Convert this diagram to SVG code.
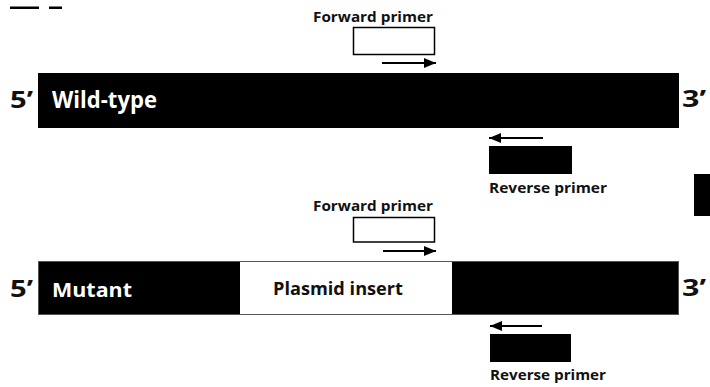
<svg xmlns="http://www.w3.org/2000/svg" width="710" height="387" viewBox="0 0 710 387">
<defs>
<style>
.t{font-family:"Open Sans","Noto Sans","Liberation Sans",sans-serif;font-weight:bold;fill:#111}
.w{fill:#fff}
.lbl{font-size:14px}
.end{font-size:23px}
.bar{fill:#000}
.fp{fill:#fff;stroke:#000;stroke-width:1.5}
.rp{fill:#000}
.arr{stroke:#000;stroke-width:1.8;fill:none}
</style>
<marker id="ah" viewBox="0 0 12 10" refX="12" refY="5" markerWidth="12" markerHeight="10" markerUnits="userSpaceOnUse" orient="auto">
<path d="M0,0 L12,5 L0,10 Z" fill="#000"/>
</marker>
</defs>
<rect width="710" height="387" fill="#fff"/>
<g id="fragment">
<rect x="10" y="6.5" width="29" height="2.5" fill="#000"/>
<rect x="49" y="6.5" width="13" height="2.5" fill="#000"/>
</g>
<g id="wildtype">
<rect class="bar" x="38" y="73" width="641" height="55"/>
<text class="t end" x="10" y="108" textLength="23" lengthAdjust="spacingAndGlyphs">5’</text>
<text class="t w end" x="52" y="108" textLength="105" lengthAdjust="spacingAndGlyphs">Wild-type</text>
<text class="t end" x="682" y="107" textLength="24" lengthAdjust="spacingAndGlyphs">3’</text>
</g>
<g id="wt-forward">
<text class="t lbl" x="313" y="22" textLength="120" lengthAdjust="spacingAndGlyphs">Forward primer</text>
<rect class="fp" x="353.5" y="27.5" width="81" height="27"/>
</g>
<g id="wt-reverse">
<rect class="rp" x="489" y="146" width="83" height="28"/>
<text class="t lbl" x="489" y="193" textLength="118" lengthAdjust="spacingAndGlyphs">Reverse primer</text>
</g>
<g id="side-box">
<rect x="694" y="174" width="16" height="42" fill="#000"/>
</g>
<g id="mutant">
<rect x="38.5" y="261.5" width="640" height="53" fill="#000" stroke="#555" stroke-width="1"/>
<rect x="240" y="262" width="212" height="52" fill="#fff"/>
<text class="t end" x="10" y="297" textLength="23" lengthAdjust="spacingAndGlyphs">5’</text>
<text class="t w" x="52" y="297" font-size="19" textLength="80" lengthAdjust="spacingAndGlyphs">Mutant</text>
<text class="t end" x="682" y="296" textLength="24" lengthAdjust="spacingAndGlyphs">3’</text>
</g>
<g id="plasmid-insert">
<text class="t" x="273" y="295" font-size="17" textLength="130" lengthAdjust="spacingAndGlyphs">Plasmid insert</text>
</g>
<g id="mut-forward">
<text class="t lbl" x="313" y="211" textLength="120" lengthAdjust="spacingAndGlyphs">Forward primer</text>
<rect class="fp" x="353.5" y="217.5" width="81" height="24.5"/>
</g>
<g id="mut-reverse">
<rect class="rp" x="490" y="334" width="81" height="28"/>
<text class="t lbl" x="490" y="380" textLength="116" lengthAdjust="spacingAndGlyphs">Reverse primer</text>
</g>
<g id="connectors">
<line class="arr" x1="382" y1="63" x2="436" y2="63" marker-end="url(#ah)"/>
<line class="arr" x1="543" y1="138" x2="489" y2="138" marker-end="url(#ah)"/>
<line class="arr" x1="383" y1="251" x2="436" y2="251" marker-end="url(#ah)"/>
<line class="arr" x1="542" y1="326" x2="490" y2="326" marker-end="url(#ah)"/>
</g>
</svg>
